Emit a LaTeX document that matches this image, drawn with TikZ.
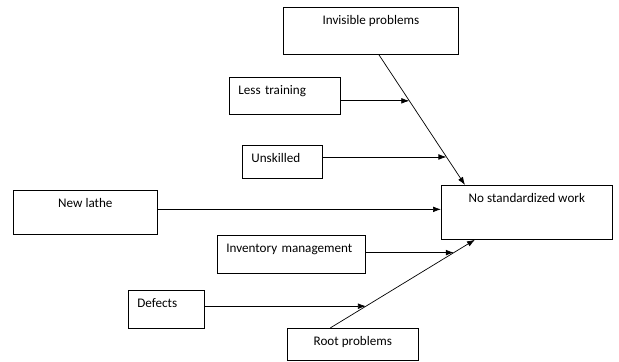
\documentclass[tikz,border=0pt]{standalone}
\usepackage{fontspec}
\setmainfont{Carlito}
\usetikzlibrary{positioning,arrows.meta}

\begin{document}
\begin{tikzpicture}[x=0.03cm, y=-0.03cm, >={Latex[length=2.4mm,width=1.7mm]}]
\tikzset{box/.style={draw, rectangle, semithick, inner sep=0pt, anchor=north west, text height=0.5cm, font=\fontsize{11.2}{13}\selectfont}}
\tikzset{lbox/.style={box, inner xsep=0.27cm, align=left}}
\tikzset{arr/.style={semithick, ->}}
\useasboundingbox (0,0) rectangle (619,361);
% boxes
\node[box, minimum width=5.25cm, text depth=0.91cm] (ip) at (283,7) {Invisible problems};
\node[lbox, text width=2.79cm, text depth=0.61cm] (lt) at (229,77) {Less training};
\node[lbox, text width=1.86cm, text depth=0.49cm] (us) at (242,145) {Unskilled};
\node[box, minimum width=4.32cm, text depth=0.82cm] (nl) at (13,190) {New lathe};
\node[box, minimum width=5.13cm, text depth=1.12cm] (nsw) at (441,185) {No standardized work};
\node[lbox, text width=3.90cm, text depth=0.64cm] (im) at (217,235) {Inventory management};
\node[lbox, text width=1.74cm, text depth=0.64cm] (df) at (128,290) {Defects};
\node[box, minimum width=3.93cm, text depth=0.46cm] (rp) at (287,328) {Root problems};
% main bones
\draw[arr] ([xshift=0.24cm]ip.south) -- ([xshift=0.72cm]nsw.north west)
  coordinate[pos=0.354] (m1) coordinate[pos=0.785] (m2);
\draw[arr] ([xshift=-0.68cm]rp.north) -- ([xshift=1.02cm]nsw.south west)
  coordinate[pos=0.854] (m3) coordinate[pos=0.247] (m4);
% side bones
\draw[arr] (lt.east |- m1) -- (m1);
\draw[arr] (us.east |- m2) -- (m2);
\draw[arr] ([yshift=0.09cm]nl.east) -- ([yshift=0.09cm]nl.east -| nsw.west);
\draw[arr] (im.east |- m3) -- (m3);
\draw[arr] (df.east |- m4) -- (m4);
\end{tikzpicture}
\end{document}
